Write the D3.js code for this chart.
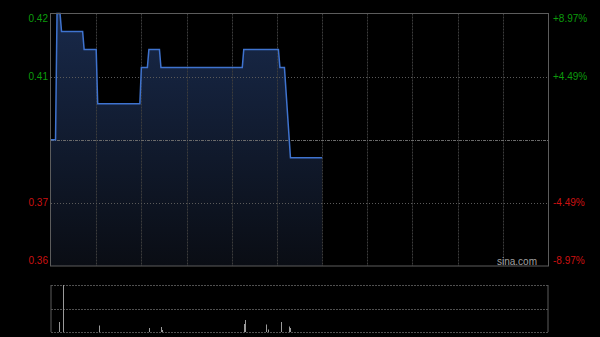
<!DOCTYPE html>
<html>
<head>
<meta charset="utf-8">
<script src="https://cdn.jsdelivr.net/npm/d3@7"></script>
<style>
  html, body { margin: 0; padding: 0; background: #000; }
  svg { display: block; }
</style>
</head>
<body>
<div id="chart"></div>
<script>
// prices (minute index from 9:30, HK session = 330 minutes)
const prevClose = 0.39;
const priceMinutes = [0, 3, 4, 6, 7, 21, 22, 30, 31, 59, 60, 64, 65, 72, 73, 127, 128, 151, 152, 155, 159, 180];
const prices = [0.39, 0.39, 0.425, 0.425, 0.42, 0.42, 0.415, 0.415, 0.40, 0.40, 0.41, 0.41, 0.415, 0.415, 0.41, 0.41, 0.415, 0.415, 0.41, 0.41, 0.385, 0.385];

// volumes
const volMinutes = [5, 8, 32, 65, 73, 74, 128, 129, 143, 144, 153, 158, 159];
const volumes = [1000000, 4700000, 650000, 400000, 500000, 200000, 800000, 1200000, 750000, 250000, 1000000, 550000, 400000];

// tick labels
const pctLevels = [8.97, 4.49, -4.49, -8.97];
const leftLabels = ["0.42", "0.41", "0.37", "0.36"];
const rightLabels = ["+8.97%", "+4.49%", "-4.49%", "-8.97%"];

const W = 600, H = 337;
const pLeft = 51, pRight = 548;
const pTop = 13.5, pBottom = 266;
const vTop = 285, vBottom = 332;
const font = "'Liberation Sans', Arial, sans-serif";
const green = "#0c9c0c", red = "#cc1111";

const svg = d3.select("#chart").append("svg")
    .attr("width", W)
    .attr("height", H)
    .style("background", "#000");

const x = d3.scaleLinear().domain([0, 330]).range([pLeft, pRight]);
const span = prevClose * 0.0897;
const y = d3.scaleLinear().domain([prevClose - span, prevClose + span]).range([pBottom, pTop]);
const yv = d3.scaleLinear().domain([0, d3.max(volumes)]).range([vBottom, vTop]);

// gradient for area fill
const defs = svg.append("defs");
const grad = defs.append("linearGradient")
    .attr("id", "fillGrad")
    .attr("x1", 0).attr("y1", pTop)
    .attr("x2", 0).attr("y2", pBottom)
    .attr("gradientUnits", "userSpaceOnUse");
grad.append("stop").attr("offset", "0%").attr("stop-color", "#18294a");
grad.append("stop").attr("offset", "100%").attr("stop-color", "#0a0d14");

const pts = priceMinutes.map((m, i) => [m, prices[i]]);

// area
svg.append("path")
    .datum(pts)
    .attr("fill", "url(#fillGrad)")
    .attr("d", d3.area().x(d => x(d[0])).y0(pBottom).y1(d => y(d[1])));

// vertical grid (every 30 minutes)
const gridMins = d3.range(30, 330, 30);
svg.selectAll("line.vgrid")
    .data(gridMins)
    .enter()
    .append("line")
    .attr("class", "vgrid")
    .attr("x1", d => Math.round(x(d)) + 0.5)
    .attr("x2", d => Math.round(x(d)) + 0.5)
    .attr("y1", pTop)
    .attr("y2", pBottom)
    .attr("stroke", "#3c3c3c")
    .attr("stroke-dasharray", "2,1");

// horizontal grid
svg.selectAll("line.hgrid")
    .data(pctLevels.slice(1, 3))
    .enter()
    .append("line")
    .attr("class", "hgrid")
    .attr("x1", pLeft)
    .attr("x2", pRight)
    .attr("y1", d => Math.round(y(prevClose * (1 + d / 100))) + 0.5)
    .attr("y2", d => Math.round(y(prevClose * (1 + d / 100))) + 0.5)
    .attr("stroke", "#5a5a5a")
    .attr("stroke-dasharray", "1,2");

// previous close line
svg.append("line")
    .attr("x1", pLeft)
    .attr("x2", pRight)
    .attr("y1", Math.round(y(prevClose)) + 0.5)
    .attr("y2", Math.round(y(prevClose)) + 0.5)
    .attr("stroke", "#6a6a6a")
    .attr("stroke-dasharray", "3,1,1,1");

// price line
svg.append("path")
    .datum(pts)
    .attr("fill", "none")
    .attr("stroke", "#3f73cf")
    .attr("stroke-width", 1.5)
    .attr("d", d3.line().x(d => x(d[0])).y(d => y(d[1])));

// frame
svg.append("rect")
    .attr("x", pLeft - 0.5)
    .attr("y", pTop)
    .attr("width", pRight - pLeft + 1)
    .attr("height", pBottom - pTop)
    .attr("fill", "none")
    .attr("stroke", "#5c5c5c");

// axis labels
const labelY = (d, i) => {
    const v = y(prevClose * (1 + d / 100));
    if (i === 0) return v + 5;
    if (i === pctLevels.length - 1) return v - 6;
    return v;
};
svg.selectAll("text.lab-left")
    .data(pctLevels)
    .enter()
    .append("text")
    .attr("class", "lab-left")
    .attr("x", 48)
    .attr("y", labelY)
    .attr("dy", "0.35em")
    .attr("text-anchor", "end")
    .attr("font-family", font)
    .attr("font-size", 10)
    .attr("fill", d => d > 0 ? green : red)
    .text((d, i) => leftLabels[i]);

svg.selectAll("text.lab-right")
    .data(pctLevels)
    .enter()
    .append("text")
    .attr("class", "lab-right")
    .attr("x", 553)
    .attr("y", labelY)
    .attr("dy", "0.35em")
    .attr("text-anchor", "start")
    .attr("font-family", font)
    .attr("font-size", 10)
    .attr("fill", d => d > 0 ? green : red)
    .text((d, i) => rightLabels[i]);

// watermark
svg.append("text")
    .attr("x", 537)
    .attr("y", 265)
    .attr("text-anchor", "end")
    .attr("font-family", font)
    .attr("font-size", 10)
    .attr("fill", "#a0a0a0")
    .text("sina.com");

// volume panel grid
[vTop, (vTop + vBottom) / 2, vBottom].forEach(v => {
    svg.append("line")
        .attr("x1", pLeft)
        .attr("x2", pRight)
        .attr("y1", Math.round(v) + 0.5)
        .attr("y2", Math.round(v) + 0.5)
        .attr("stroke", "#505050")
        .attr("stroke-dasharray", "2,1");
});
[pLeft, pRight].forEach(xx => {
    svg.append("line")
        .attr("x1", xx)
        .attr("x2", xx)
        .attr("y1", vTop)
        .attr("y2", vBottom)
        .attr("stroke", "#5c5c5c");
});

// volume bars
svg.selectAll("line.vol")
    .data(volumes)
    .enter()
    .append("line")
    .attr("class", "vol")
    .attr("x1", (d, i) => Math.round(x(volMinutes[i])) + 0.5)
    .attr("x2", (d, i) => Math.round(x(volMinutes[i])) + 0.5)
    .attr("y1", vBottom)
    .attr("y2", d => yv(d))
    .attr("stroke", "#9a9a9a");
</script>
</body>
</html>
